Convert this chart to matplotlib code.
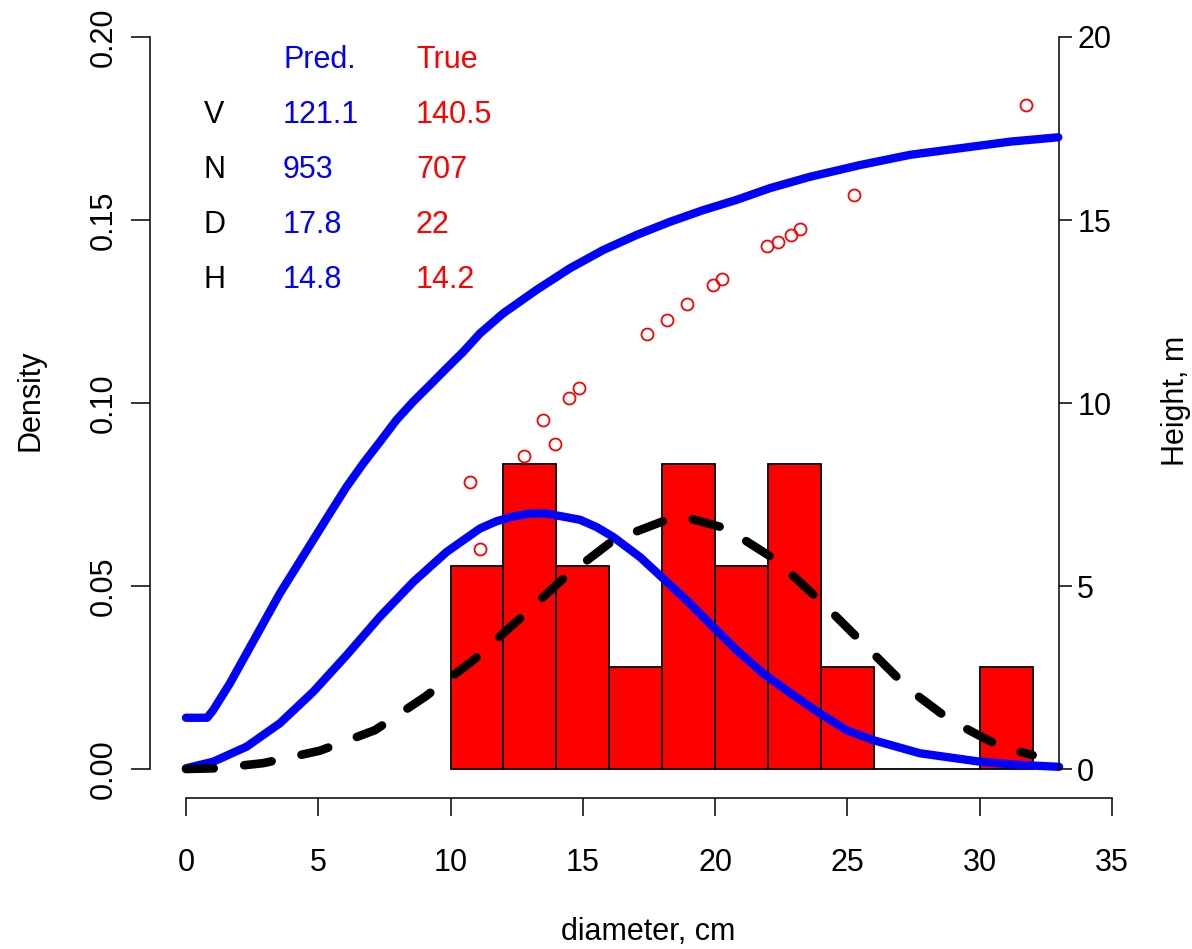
import matplotlib
matplotlib.use("Agg")
import matplotlib.pyplot as plt
import numpy as np

plt.rcParams["font.family"] = ["Liberation Sans", "DejaVu Sans"]
plt.rcParams["lines.scale_dashes"] = False

# ---------------- data ----------------
# observed trees: diameter (cm) and height (m)
tree_d = [10.73, 11.11, 12.77, 13.49, 13.95, 14.47, 14.85, 17.42, 18.18, 18.93,
          19.92, 20.26, 21.96, 22.37, 22.86, 23.20, 25.25, 31.75]
tree_h = [7.84, 6.01, 8.55, 9.54, 8.88, 10.14, 10.41, 11.89, 12.27, 12.70,
          13.22, 13.39, 14.29, 14.40, 14.59, 14.75, 15.68, 18.14]

# predicted height curve
hcurve_d = [0, 0.8, 1.03, 1.66, 2.29, 2.92, 3.55, 4.18, 4.81, 5.44, 6.07, 6.70,
            7.33, 7.96, 8.59, 9.22, 9.85, 10.48, 11.11, 11.99, 13.25, 14.51,
            15.77, 17.03, 18.29, 19.55, 20.81, 22.07, 23.58, 25.47, 27.36,
            29.25, 31.14, 32.97]
hcurve_h = [1.40, 1.40, 1.61, 2.34, 3.16, 3.98, 4.80, 5.53, 6.26, 6.99, 7.71,
            8.35, 8.94, 9.54, 10.04, 10.49, 10.95, 11.40, 11.90, 12.45, 13.09,
            13.68, 14.18, 14.59, 14.95, 15.27, 15.55, 15.87, 16.18, 16.50,
            16.78, 16.96, 17.14, 17.26]

# predicted diameter density
pred_d = [0, 1.03, 2.29, 3.55, 4.81, 6.07, 7.33, 8.59, 9.85, 11.11, 11.74,
          12.37, 13.0, 13.63, 14.89, 15.52, 16.15, 17.16, 17.91, 18.92, 19.93,
          20.81, 21.82, 22.95, 23.96, 24.97, 25.97, 27.74, 30.01, 31.52, 33.0]
pred_f = [0.0002, 0.0020, 0.0061, 0.0125, 0.0211, 0.0311, 0.0416, 0.0511,
          0.0593, 0.0657, 0.0677, 0.0690, 0.0698, 0.0698, 0.0681, 0.0661,
          0.0634, 0.0579, 0.0529, 0.0461, 0.0388, 0.0325, 0.0261, 0.0202,
          0.0152, 0.0106, 0.0079, 0.0043, 0.0020, 0.0011, 0.0006]

# "true" diameter density (dashed)
true_d = [0, 1.16, 2.92, 5.06, 7.14, 9.03, 10.86, 12.62, 14.26, 16.15, 18.29,
          18.92, 20.43, 22.32, 24.08, 25.72, 27.36, 28.87, 29.94, 30.8, 32.0]
true_f = [0, 0.0002, 0.0016, 0.0050, 0.0106, 0.0197, 0.0297, 0.0411, 0.0520,
          0.0625, 0.0684, 0.0687, 0.0657, 0.0570, 0.0452, 0.0334, 0.0216,
          0.0134, 0.0093, 0.0061, 0.0038]

hist_bins = [10, 12, 14, 16, 18, 20, 22, 24, 26, 28, 30, 32]

x_ticks = [0, 5, 10, 15, 20, 25, 30, 35]
y_ticks = [0.00, 0.05, 0.10, 0.15, 0.20]
y_tick_labels = ["0.00", "0.05", "0.10", "0.15", "0.20"]
h_ticks = [0, 5, 10, 15, 20]

table_rows = ["V", "N", "D", "H"]
table_pred = ["121.1", "953", "17.8", "14.8"]
table_true = ["140.5", "707", "22", "14.2"]

# ---------------- figure ----------------
W, H = 1192, 949
fig = plt.figure(figsize=(W / 100, H / 100), dpi=100)
FS = 22

ax = fig.add_axes([150 / W, 1 - 798 / H, (1112 - 150) / W, (798 - 37) / H])
ax.set_xlim(-1.36, 35)
ax.set_ylim(-0.007923, 0.2)
ax.patch.set_alpha(0)

ax2 = ax.twinx()
ax2.set_ylim(-0.7923, 20)

# histogram of observed diameters
ax.hist(tree_d, bins=hist_bins, density=True, color="#FF0000",
        edgecolor="black", linewidth=1.3, zorder=2)

blue = "#0000FF"
ax.plot(pred_d, pred_f, color=blue, lw=6.0, solid_capstyle="round",
        solid_joinstyle="round", zorder=3)
ax.plot(true_d, true_f, color="black", lw=6.2, dashes=(20.0, 22.0),
        dash_capstyle="round", zorder=4)

ax2.plot(hcurve_d, hcurve_h, color=blue, lw=6.0, solid_capstyle="round",
         solid_joinstyle="round", zorder=3)
ax2.plot(tree_d, tree_h, linestyle="none", marker="o", ms=8.6,
         markerfacecolor="none", markeredgecolor="#FF0000", mew=1.3, zorder=5)

# ---- axes styling ----
for s in ["top", "right"]:
    ax.spines[s].set_visible(False)
ax.spines["left"].set_bounds(0, 0.2)
ax.spines["bottom"].set_bounds(0, 35)
for s in ["left", "bottom"]:
    ax.spines[s].set_linewidth(1.1)

ax.set_xticks(x_ticks)
ax.set_xticklabels([str(v) for v in x_ticks])
ax.set_yticks(y_ticks)
ax.set_yticklabels(y_tick_labels, rotation=90, va="center")
ax.tick_params(axis="x", direction="out", length=13, width=1.1, pad=23,
               labelsize=FS)
ax.tick_params(axis="y", direction="out", length=13.7, width=1.1, pad=8.5,
               labelsize=FS)

for s in ["top", "left", "bottom"]:
    ax2.spines[s].set_visible(False)
ax2.spines["right"].set_position(("data", 33))
ax2.spines["right"].set_bounds(0, 20)
ax2.spines["right"].set_linewidth(1.1)
ax2.set_yticks(h_ticks)
ax2.set_yticklabels([str(v) for v in h_ticks])
ax2.tick_params(axis="y", direction="out", length=9.4, width=1.1, pad=3.6,
                labelsize=FS)

# ---- table text ----
row_y = [0.1765, 0.1615, 0.1465, 0.1315]
ax.text(3.67, 0.1915, "Pred.", color=blue, fontsize=FS, ha="left", va="baseline")
ax.text(8.69, 0.1915, "True", color="#FF0000", fontsize=FS, ha="left", va="baseline")
for lab, p, t, yy in zip(table_rows, table_pred, table_true, row_y):
    ax.text(0.68, yy, lab, color="black", fontsize=FS, ha="left", va="baseline")
    ax.text(3.67, yy, p, color=blue, fontsize=FS, ha="left", va="baseline")
    ax.text(8.69, yy, t, color="#FF0000", fontsize=FS, ha="left", va="baseline")

# ---- axis titles ----
fig.text(648 / W, 1 - 940 / H, "diameter, cm", fontsize=FS, ha="center",
         va="baseline")
fig.text(31 / W, 1 - 400 / H, "Density", fontsize=FS, rotation=90,
         ha="center", va="center")
fig.text(1176 / W, 1 - 401 / H, "Height, m", fontsize=FS, rotation=90,
         ha="center", va="center")

fig.savefig("out.png", dpi=100)
